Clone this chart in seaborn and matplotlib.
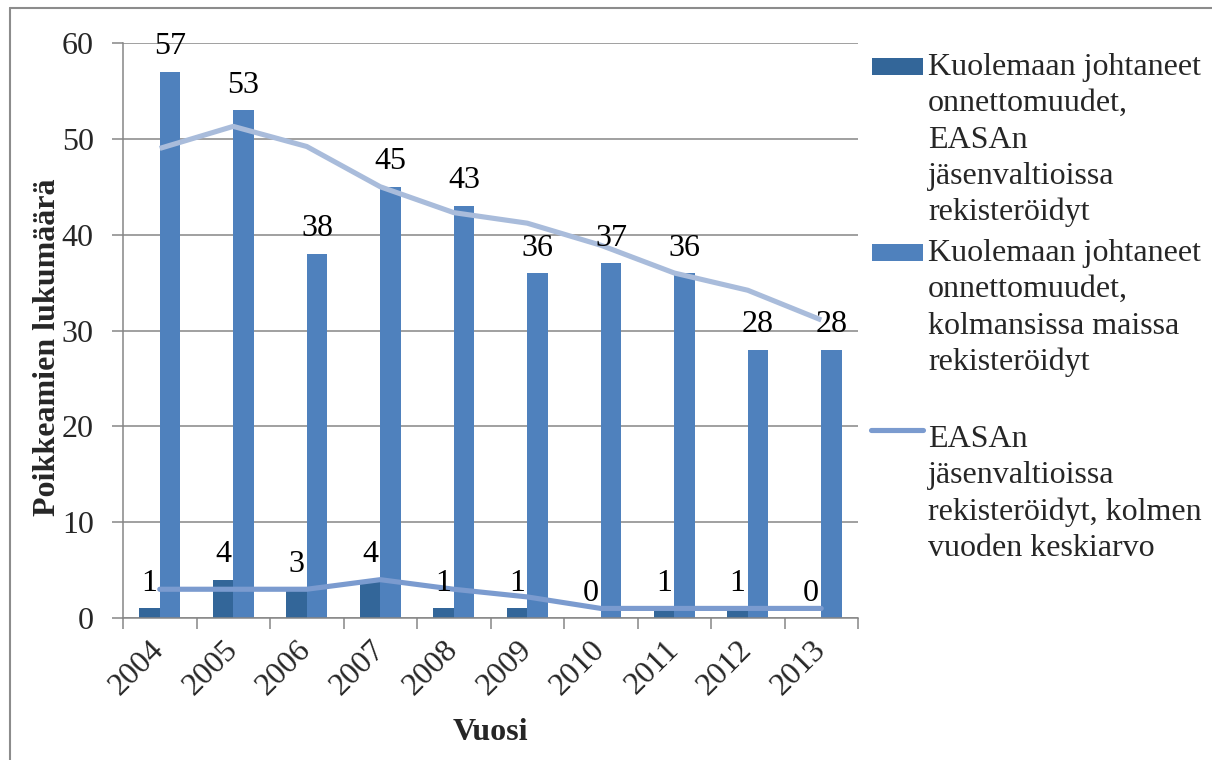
import numpy as np
import pandas as pd
import matplotlib.pyplot as plt
import matplotlib.patches as mpatches
import matplotlib.lines as mlines
from matplotlib.transforms import ScaledTranslation
import seaborn as sns

# data
years = ["2004", "2005", "2006", "2007", "2008", "2009", "2010", "2011", "2012", "2013"]
easa_fatal = [1, 4, 3, 4, 1, 1, 0, 1, 1, 0]
third_fatal = [57, 53, 38, 45, 43, 36, 37, 36, 28, 28]
easa_avg3 = [3, 3, 3, 4, 3, 2.2, 1, 1, 1, 1]
third_avg3 = [49, 51.3, 49.2, 45, 42.3, 41.2, 38.9, 36, 34.2, 31.1]
yticks = [0, 10, 20, 30, 40, 50, 60]

series_names = [
    "Kuolemaan johtaneet\nonnettomuudet,\nEASAn\njäsenvaltioissa\nrekisteröidyt",
    "Kuolemaan johtaneet\nonnettomuudet,\nkolmansissa maissa\nrekisteröidyt",
]
line_name = "EASAn\njäsenvaltioissa\nrekisteröidyt, kolmen\nvuoden keskiarvo"

DARK = "#336699"
LIGHT = "#4F81BD"
AVG_LOW = "#7B9BCF"
AVG_HIGH = "#A9BCDB"
GRAY = "#868686"
FS = 23
LINE_STEP = 36.3  # px between legend text lines


def build_frame() -> pd.DataFrame:
    """Long table for the grouped bars."""
    df = pd.DataFrame({
        "Vuosi": years * 2,
        "value": easa_fatal + third_fatal,
        "series": [series_names[0]] * len(years) + [series_names[1]] * len(years),
    })
    return df


def main():
    sns.set_theme(style="white")
    plt.rcParams["font.family"] = ["Liberation Serif", "DejaVu Serif"]

    W, H = 1212, 760
    fig = plt.figure(figsize=(W / 100, H / 100), dpi=100)
    ax = fig.add_axes([123 / W, 1 - 618 / H, 735 / W, 575 / H])

    df = build_frame()
    sns.barplot(
        data=df, x="Vuosi", y="value", hue="series",
        hue_order=series_names, palette=[DARK, LIGHT],
        width=0.56, saturation=1, linewidth=0, legend=False, ax=ax,
    )

    x = np.arange(len(years))
    sns.lineplot(x=x, y=third_avg3, color=AVG_HIGH, lw=3.7, ax=ax,
                 solid_capstyle="butt")
    sns.lineplot(x=x, y=easa_avg3, color=AVG_LOW, lw=3.7, ax=ax,
                 solid_capstyle="round")

    # value labels above bars
    for cont, vals in zip(ax.containers[:2], [easa_fatal, third_fatal]):
        ax.bar_label(cont, labels=[str(v) for v in vals], padding=7.5,
                     fontsize=FS, color="black")

    ax.set_xlim(-0.5, len(years) - 0.5)
    ax.set_ylim(0, 60)
    ax.set_yticks(yticks)
    ax.yaxis.grid(True, color=GRAY, lw=1.1)
    ax.xaxis.grid(False)
    ax.set_axisbelow(True)

    ax.set_xticks(x)
    ax.set_xticklabels(years, rotation=45, ha="right", va="center",
                       rotation_mode="anchor", fontsize=FS)
    shift = ScaledTranslation(4 / 100, 0, fig.dpi_scale_trans)
    for lab in ax.get_xticklabels():
        lab.set_transform(lab.get_transform() + shift)
    ax.set_xticks(np.arange(-0.5, len(years), 1), minor=True)
    ax.tick_params(axis="x", which="major", length=0, pad=20)
    ax.tick_params(axis="x", which="minor", length=8, width=1.1, color=GRAY,
                   direction="out", bottom=True)
    ax.tick_params(axis="y", length=8, width=1.1, color=GRAY, pad=13,
                   labelsize=FS, direction="out", left=True)

    for side in ["top", "right"]:
        ax.spines[side].set_visible(False)
    for side in ["left", "bottom"]:
        ax.spines[side].set_color(GRAY)
        ax.spines[side].set_linewidth(1.1)

    ax.set_ylabel("Poikkeamien lukumäärä", fontsize=FS, fontweight="bold")
    ax.yaxis.set_label_coords(-0.083, 0.47)
    ax.set_xlabel("Vuosi", fontsize=FS, fontweight="bold")
    ax.xaxis.set_label_coords(0.5, -0.174)

    # legend drawn by hand so the keys sit on the first text line
    def fx(px):
        return px / W

    def fy(px):
        return 1 - px / H

    def legend_text(label, first_base):
        for i, line in enumerate(label.split("\n")):
            fig.text(fx(928), fy(first_base + i * LINE_STEP), line,
                     fontsize=FS, va="baseline", ha="left")

    for color, top, base, label in [(DARK, 58, 75, series_names[0]),
                                    (LIGHT, 244, 261, series_names[1])]:
        fig.add_artist(mpatches.Rectangle(
            (fx(872), fy(base)), fx(923) - fx(872), (base - top) / H,
            transform=fig.transFigure, color=color, lw=0))
        legend_text(label, base)
    fig.add_artist(mlines.Line2D([fx(871), fx(923)], [fy(430), fy(430)],
                                 transform=fig.transFigure, color=AVG_LOW,
                                 lw=3.7, solid_capstyle="round"))
    legend_text(line_name, 447)

    # outer chart frame (top and left edges visible)
    fig.add_artist(mlines.Line2D([fx(10), 1], [fy(8), fy(8)],
                                 transform=fig.transFigure, color="#8C8C8C", lw=1.5))
    fig.add_artist(mlines.Line2D([fx(10), fx(10)], [fy(8), 0],
                                 transform=fig.transFigure, color="#8C8C8C", lw=1.5))

    fig.savefig("out.png", dpi=100)
    plt.close(fig)


if __name__ == "__main__":
    main()
